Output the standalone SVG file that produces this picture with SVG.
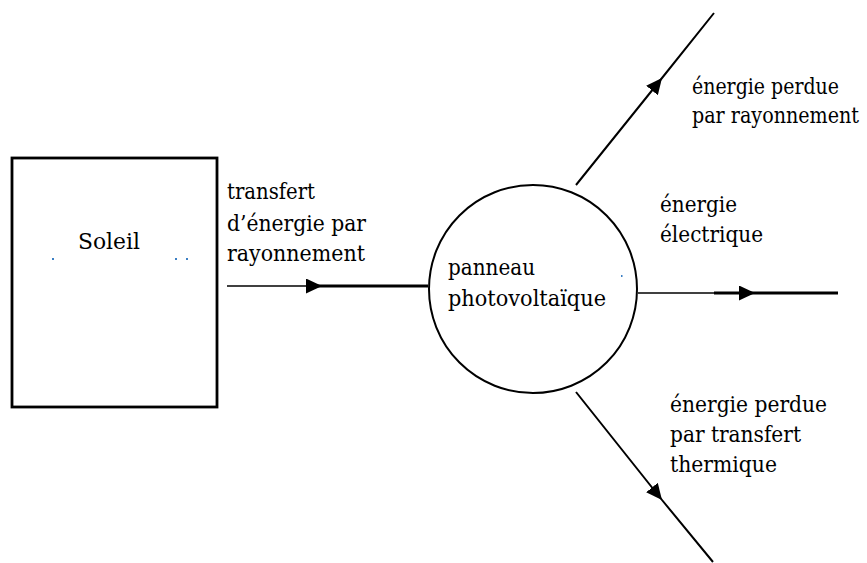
<svg xmlns="http://www.w3.org/2000/svg" width="867" height="563" viewBox="0 0 867 563">
<style>
  .node { fill: #fff; stroke: #000; }
  .thin { stroke: #000; stroke-width: 1.6; fill: none; }
  .thick { stroke: #000; stroke-width: 3; fill: none; }
  .diag { stroke: #000; stroke-width: 2; fill: none; }
  .dot { fill: #3b7fc4; }
  .lbl { font-family: "DejaVu Serif", "Liberation Serif", serif; font-size: 23px; fill: #000; }
  .sm { font-size: 22.5px; }
</style>
<defs>
  <marker id="arrow" viewBox="0 0 16 15" refX="16" refY="7.5" markerWidth="16" markerHeight="15" markerUnits="userSpaceOnUse" orient="auto">
    <path d="M0,0 L16,7.5 L0,15 z" fill="#000"/>
  </marker>
</defs>
<rect width="867" height="563" fill="#fff"/>
<g id="soleil">
  <rect class="node" x="12" y="158" width="205" height="249" stroke-width="2.8"/>
  <text class="lbl" x="78" y="249" textLength="62" lengthAdjust="spacingAndGlyphs">Soleil</text>
  <rect class="dot" x="52" y="258" width="2" height="2"/>
  <rect class="dot" x="175" y="258" width="2" height="2"/>
  <rect class="dot" x="186" y="258" width="2" height="2"/>
</g>

<g id="panneau">
  <circle class="node" cx="533" cy="289" r="104" stroke-width="2"/>
  <text class="lbl" x="448" y="275" textLength="87" lengthAdjust="spacingAndGlyphs">panneau</text>
  <text class="lbl" x="448" y="306" textLength="158" lengthAdjust="spacingAndGlyphs">photovoltaïque</text>
  <rect class="dot" x="621" y="275" width="1.5" height="2"/>
</g>

<g id="connectors">
  <path class="thin" d="M227,286 L322,286" marker-end="url(#arrow)"/>
  <path class="thick" d="M312,286 L428,286"/>
  <path class="thin" d="M638,293 L716,293"/>
  <path class="thick" d="M714,293 L755,293 L838,293" marker-mid="url(#arrow)"/>
  <path class="diag" d="M576,185 L662,78 L714,13" marker-mid="url(#arrow)"/>
  <path class="diag" d="M576,392 L662,500 L713,562" marker-mid="url(#arrow)"/>
</g>

<g id="labels">
  <text class="lbl" x="227" y="199" textLength="88" lengthAdjust="spacingAndGlyphs">transfert</text>
  <text class="lbl" x="227" y="231" textLength="139" lengthAdjust="spacingAndGlyphs">d’énergie par</text>
  <text class="lbl" x="227" y="261" textLength="138" lengthAdjust="spacingAndGlyphs">rayonnement</text>
  <text class="lbl sm" x="692" y="94" textLength="147" lengthAdjust="spacingAndGlyphs">énergie perdue</text>
  <text class="lbl sm" x="692" y="123" textLength="167" lengthAdjust="spacingAndGlyphs">par rayonnement</text>
  <text class="lbl" x="660" y="212" textLength="77" lengthAdjust="spacingAndGlyphs">énergie</text>
  <text class="lbl" x="660" y="242" textLength="103" lengthAdjust="spacingAndGlyphs">électrique</text>
  <text class="lbl" x="670" y="412" textLength="157" lengthAdjust="spacingAndGlyphs">énergie perdue</text>
  <text class="lbl" x="670" y="442" textLength="131" lengthAdjust="spacingAndGlyphs">par transfert</text>
  <text class="lbl" x="670" y="472" textLength="107" lengthAdjust="spacingAndGlyphs">thermique</text>
</g>
</svg>
